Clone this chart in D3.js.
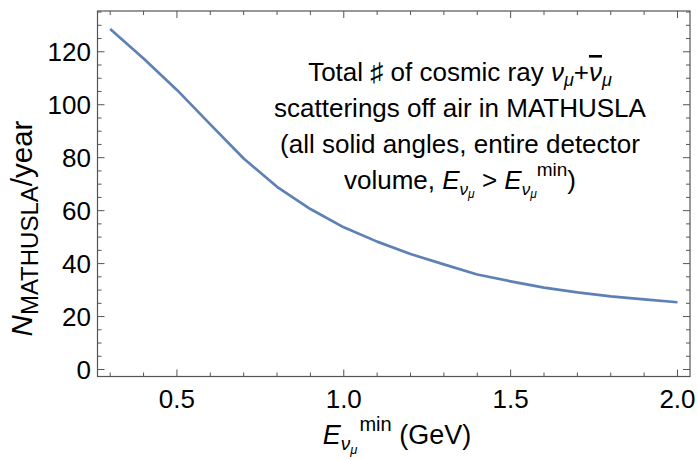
<!DOCTYPE html>
<html>
<head>
<meta charset="utf-8">
<script src="https://cdn.jsdelivr.net/npm/d3@7"></script>
<style>
  html, body { margin: 0; padding: 0; background: #fff; }
  svg { display: block; font-family: "Liberation Sans", Arial, sans-serif; }
</style>
</head>
<body>
<svg id="chart" width="698" height="459"></svg>
<script>
// ---- data ----
const energyMin = [0.3, 0.4, 0.5, 0.6, 0.7, 0.8, 0.9, 1.0, 1.1, 1.2, 1.3, 1.4, 1.5, 1.6, 1.7, 1.8, 1.9, 2.0];
const eventsPerYear = [128.6, 117.5, 105.6, 92.6, 79.7, 69.0, 60.6, 53.7, 48.3, 43.6, 39.7, 35.9, 33.3, 30.9, 29.1, 27.6, 26.5, 25.4];
const xTickValues = [0.5, 1.0, 1.5, 2.0];
const xTickLabels = ["0.5", "1.0", "1.5", "2.0"];
const yTickValues = [0, 20, 40, 60, 80, 100, 120];
const yTickLabels = ["0", "20", "40", "60", "80", "100", "120"];

// ---- layout ----
const frame = { left: 97.5, right: 690, top: 11, bottom: 376.5 };
const xDomain = [0.262, 2.0375];
const yDomain = [-2.64, 135.4];

const svg = d3.select("#chart");
const x = d3.scaleLinear().domain(xDomain).range([frame.left, frame.right]);
const y = d3.scaleLinear().domain(yDomain).range([frame.bottom, frame.top]);

const frameColor = "#555555";
const majorLen = 7, minorLen = 4;

const xMinor = d3.range(3, 21).map(d => d / 10).filter(v => !xTickValues.some(t => Math.abs(t - v) < 1e-9));
const yMinor = d3.range(0, 136, 5).filter(v => !yTickValues.includes(v));

const g = svg.append("g");

function hTicks(vals, len) {
  vals.forEach(v => {
    g.append("line").attr("x1", x(v)).attr("x2", x(v)).attr("y1", frame.bottom).attr("y2", frame.bottom - len)
      .attr("stroke", frameColor).attr("stroke-width", 1);
    g.append("line").attr("x1", x(v)).attr("x2", x(v)).attr("y1", frame.top).attr("y2", frame.top + len)
      .attr("stroke", frameColor).attr("stroke-width", 1);
  });
}
function vTicks(vals, len) {
  vals.forEach(v => {
    g.append("line").attr("y1", y(v)).attr("y2", y(v)).attr("x1", frame.left).attr("x2", frame.left + len)
      .attr("stroke", frameColor).attr("stroke-width", 1);
    g.append("line").attr("y1", y(v)).attr("y2", y(v)).attr("x1", frame.right).attr("x2", frame.right - len)
      .attr("stroke", frameColor).attr("stroke-width", 1);
  });
}
hTicks(xTickValues, majorLen);
hTicks(xMinor, minorLen);
vTicks(yTickValues, majorLen);
vTicks(yMinor, minorLen);

g.append("rect").attr("x", frame.left).attr("y", frame.top)
  .attr("width", frame.right - frame.left).attr("height", frame.bottom - frame.top)
  .attr("fill", "none").attr("stroke", frameColor).attr("stroke-width", 1.2);

const tickFs = 26;
g.selectAll(".xl").data(xTickValues).join("text")
  .attr("x", d => x(d)).attr("y", 407.5).attr("text-anchor", "middle")
  .attr("font-size", tickFs).attr("fill", "#000")
  .text((d, i) => xTickLabels[i]);
g.selectAll(".yl").data(yTickValues).join("text")
  .attr("x", 91).attr("y", d => y(d) + 9.5).attr("text-anchor", "end")
  .attr("font-size", tickFs).attr("fill", "#000")
  .text((d, i) => yTickLabels[i]);

const line = d3.line().x((d, i) => x(energyMin[i])).y(d => y(d));
g.append("path").datum(eventsPerYear).attr("d", line)
  .attr("fill", "none").attr("stroke", "#5e81b5").attr("stroke-width", 2.7)
  .attr("stroke-linejoin", "round");

// x axis label
const xl = svg.append("text").attr("x", 397).attr("y", 443.5).attr("text-anchor", "middle")
  .attr("font-size", 27).attr("fill", "#000");
xl.append("tspan").attr("font-style", "italic").text("E");
xl.append("tspan").attr("font-style", "italic").attr("font-size", 19).attr("dy", 6).text("ν");
xl.append("tspan").attr("font-style", "italic").attr("font-size", 13).attr("dy", 4).text("μ");
xl.append("tspan").attr("font-size", 20).attr("dy", -23).attr("dx", 2).text("min");
xl.append("tspan").attr("dy", 13).text(" (GeV)");

// y axis label
const yl = svg.append("text").attr("transform", "translate(31.5,228.5) rotate(-90)")
  .attr("text-anchor", "middle").attr("font-size", 29.5).attr("fill", "#000");
yl.append("tspan").attr("font-style", "italic").text("N");
yl.append("tspan").attr("font-size", 24).attr("dy", 6).text("MATHUSLA");
yl.append("tspan").attr("dy", -6).text("/year");

// annotation
const cx = 460;
const fs = 26;
const t1 = svg.append("text").attr("x", cx).attr("y", 81).attr("text-anchor", "middle").attr("font-size", fs);
t1.append("tspan").text("Total ♯ of cosmic ray ");
t1.append("tspan").attr("font-style", "italic").text("ν");
t1.append("tspan").attr("font-style", "italic").attr("font-size", 18).attr("dy", 5).text("μ");
t1.append("tspan").attr("dy", -5).text("+");
t1.append("tspan").attr("font-style", "italic").attr("text-decoration", "overline").text("ν");
t1.append("tspan").attr("font-style", "italic").attr("font-size", 18).attr("dy", 5).text("μ");

svg.append("text").attr("x", cx).attr("y", 117).attr("text-anchor", "middle").attr("font-size", fs)
  .text("scatterings off air in MATHUSLA");
svg.append("text").attr("x", cx).attr("y", 153).attr("text-anchor", "middle").attr("font-size", fs)
  .text("(all solid angles, entire detector");

const t4 = svg.append("text").attr("x", cx).attr("y", 189).attr("text-anchor", "middle").attr("font-size", fs);
t4.append("tspan").text("volume, ");
t4.append("tspan").attr("font-style", "italic").text("E");
t4.append("tspan").attr("font-style", "italic").attr("font-size", 17).attr("dy", 6).text("ν");
t4.append("tspan").attr("font-style", "italic").attr("font-size", 12).attr("dy", 3).text("μ");
t4.append("tspan").attr("dy", -9).text(" > ");
t4.append("tspan").attr("font-style", "italic").text("E");
t4.append("tspan").attr("font-style", "italic").attr("font-size", 17).attr("dy", 6).text("ν");
t4.append("tspan").attr("font-style", "italic").attr("font-size", 12).attr("dy", 3).text("μ");
t4.append("tspan").attr("font-size", 19).attr("dy", -22).text("min");
t4.append("tspan").attr("dy", 13).text(")");
</script>
</body>
</html>
